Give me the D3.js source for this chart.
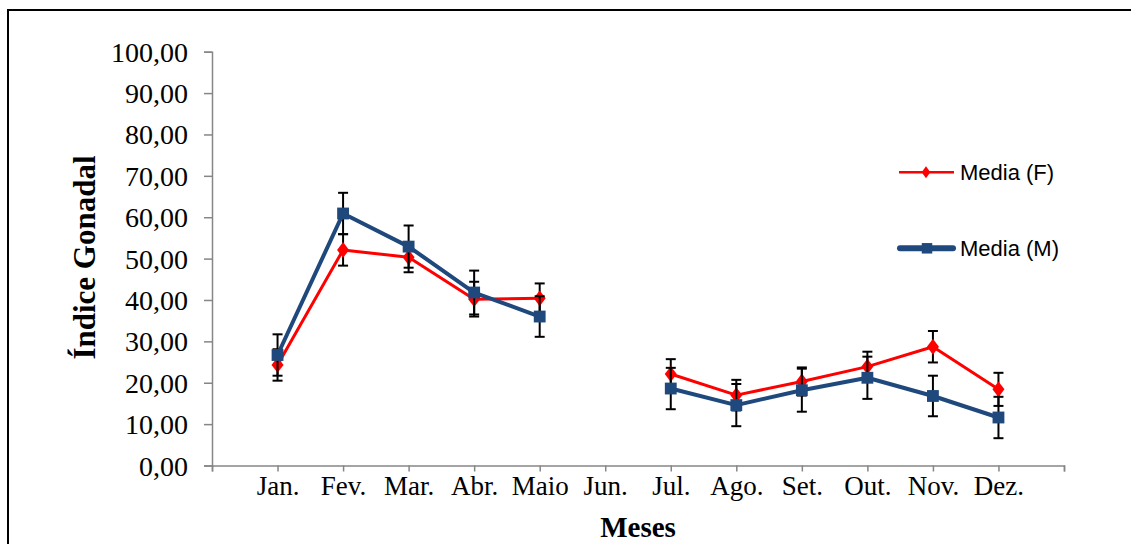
<!DOCTYPE html>
<html>
<head>
<meta charset="utf-8">
<script src="https://cdn.jsdelivr.net/npm/d3@7"></script>
<style>
html,body{margin:0;padding:0;background:#fff;overflow:hidden;}
svg{display:block;}
</style>
</head>
<body>
<svg id="chart" width="1131" height="544"></svg>
<script>
// ---- data ----
const months = ["Jan.","Fev.","Mar.","Abr.","Maio","Jun.","Jul.","Ago.","Set.","Out.","Nov.","Dez."];
const femaleMean = [24.3, 52.1, 50.3, 40.2, 40.4, null, 22.1, 17.0, 20.3, 23.9, 28.7, 18.4];
const femaleErr  = [3.8, 3.8, 3.6, 4.2, 3.6, null, 3.6, 3.7, 3.4, 3.6, 3.8, 4.0];
const maleMean   = [26.7, 60.9, 52.9, 41.8, 36.0, null, 18.6, 14.6, 18.2, 21.2, 16.8, 11.6];
const maleErr    = [5.0, 5.0, 5.1, 5.3, 4.9, null, 5.0, 5.1, 5.2, 5.1, 4.9, 5.0];
const yTicks = [0,10,20,30,40,50,60,70,80,90,100];
const seriesNames = ["Media (F)", "Media (M)"];

const svg = d3.select("#chart");

// frame
svg.append("rect").attr("x",8).attr("y",10).attr("width",1200).attr("height",600)
  .attr("fill","none").attr("stroke","#000").attr("stroke-width",2);

const x = d3.scaleLinear().domain([0,13]).range([212,1064]);
const y = d3.scaleLinear().domain([0,100]).range([465.5,51.7]);

const axisColor = "#868686";

// y axis
const yAxis = svg.append("g").attr("transform","translate(212,0)")
  .call(d3.axisLeft(y).tickValues(yTicks).tickSize(8)
    .tickFormat(d => d.toFixed(2).replace(".", ",")));
yAxis.select(".domain").attr("stroke",axisColor).attr("stroke-width",1.5);
yAxis.selectAll(".tick line").attr("stroke",axisColor).attr("stroke-width",1.5);
yAxis.selectAll(".tick text").attr("x",-24).attr("dy","0.34em")
  .attr("font-family","'Liberation Serif','Times New Roman',serif").attr("font-size",28).attr("fill","#000");

// x axis
const xAxis = svg.append("g").attr("transform","translate(0,465.5)")
  .call(d3.axisBottom(x).tickValues(d3.range(0,14)).tickSize(6)
    .tickFormat(d => (d>=1 && d<=12) ? months[d-1] : ""));
xAxis.select(".domain").attr("stroke",axisColor).attr("stroke-width",1.5);
xAxis.selectAll(".tick line").attr("stroke",axisColor).attr("stroke-width",1.5);
xAxis.selectAll(".tick text").attr("y",29.5).attr("dy",0)
  .attr("font-family","'Liberation Serif','Times New Roman',serif").attr("font-size",27).attr("fill","#000");

// axis titles
svg.append("text").attr("transform","translate(95,257.5) rotate(-90)")
  .attr("text-anchor","middle").attr("font-family","'Liberation Serif','Times New Roman',serif")
  .attr("font-weight","bold").attr("font-size",31).text("Índice Gonadal");
svg.append("text").attr("x",638).attr("y",537)
  .attr("text-anchor","middle").attr("font-family","'Liberation Serif','Times New Roman',serif")
  .attr("font-weight","bold").attr("font-size",29).text("Meses");

function drawSeries(means, errs, color, width, markerType) {
  const pts = means.map((v,i)=>({i, v, e: errs[i]}));
  const valid = pts.filter(p=>p.v!=null);
  const g = svg.append("g");
  // error bars
  const eb = g.selectAll(".eb").data(valid).enter().append("g");
  eb.append("line").attr("x1",p=>x(p.i+1)).attr("x2",p=>x(p.i+1))
    .attr("y1",p=>y(p.v+p.e)).attr("y2",p=>y(p.v-p.e)).attr("stroke","#000").attr("stroke-width",2);
  [1,-1].forEach(s=>{
    eb.append("line").attr("x1",p=>x(p.i+1)-5).attr("x2",p=>x(p.i+1)+5)
      .attr("y1",p=>y(p.v+s*p.e)).attr("y2",p=>y(p.v+s*p.e)).attr("stroke","#000").attr("stroke-width",2);
  });
  // line
  const line = d3.line().defined(p=>p.v!=null).x(p=>x(p.i+1)).y(p=>y(p.v));
  g.append("path").datum(pts).attr("d",line).attr("fill","none")
    .attr("stroke",color).attr("stroke-width",width).attr("stroke-linejoin","round");
  // markers
  const sym = d3.symbol().type(markerType==="diamond"?d3.symbolDiamond:d3.symbolSquare)
    .size(markerType==="diamond"?80:140);
  g.selectAll(".m").data(valid).enter().append("path")
    .attr("transform",p=>`translate(${x(p.i+1)},${y(p.v)})`+(markerType==="diamond"?" scale(1.25,0.95)":""))
    .attr("d",sym).attr("fill",color);
}

drawSeries(femaleMean, femaleErr, "#ff0000", 3, "diamond");
drawSeries(maleMean, maleErr, "#1f497d", 4, "square");

// legend
const lg = svg.append("g");
lg.append("line").attr("x1",899).attr("x2",954).attr("y1",172.3).attr("y2",172.3)
  .attr("stroke","#ff0000").attr("stroke-width",2.5);
lg.append("path").attr("transform","translate(926,172.3) scale(1.2,0.95)")
  .attr("d",d3.symbol().type(d3.symbolDiamond).size(45)).attr("fill","#ff0000");
lg.append("text").attr("x",960).attr("y",179.5).attr("font-family","'Liberation Sans',Arial,sans-serif")
  .attr("font-size",22).text(seriesNames[0]);
lg.append("line").attr("x1",900).attr("x2",953).attr("y1",248.3).attr("y2",248.3)
  .attr("stroke","#1f497d").attr("stroke-width",6).attr("stroke-linecap","round");
lg.append("path").attr("transform","translate(927,248.3)")
  .attr("d",d3.symbol().type(d3.symbolSquare).size(110)).attr("fill","#1f497d");
lg.append("text").attr("x",960).attr("y",255.5).attr("font-family","'Liberation Sans',Arial,sans-serif")
  .attr("font-size",22).text(seriesNames[1]);
</script>
</body>
</html>
